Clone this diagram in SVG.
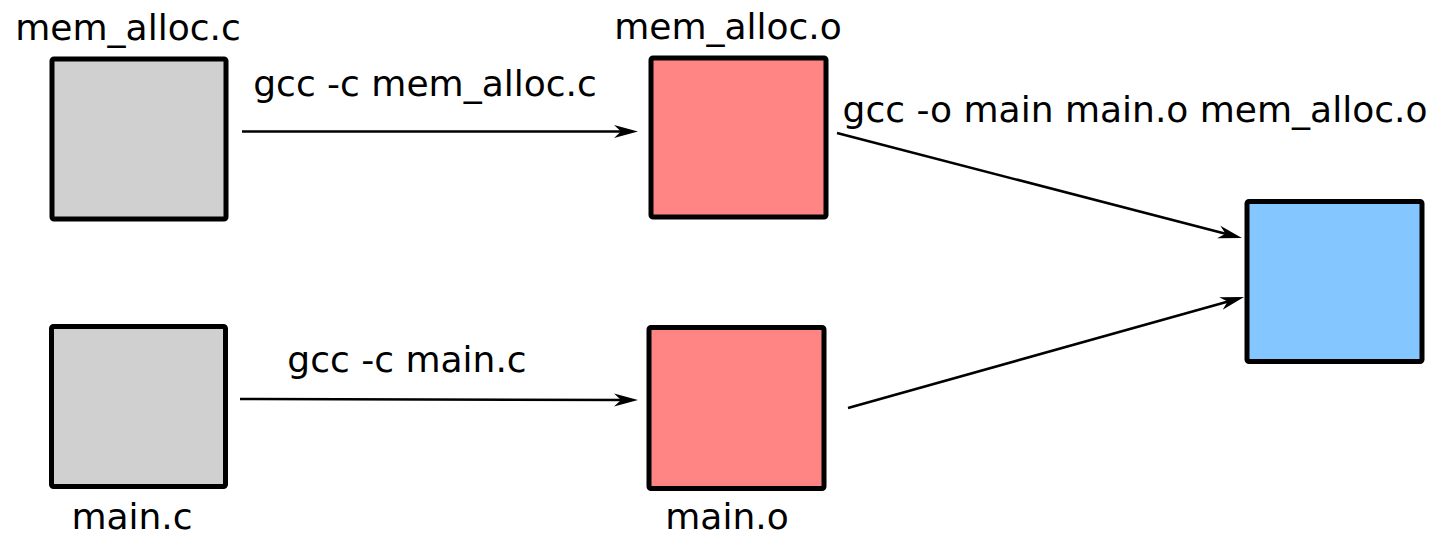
<svg xmlns="http://www.w3.org/2000/svg" width="1434" height="538" viewBox="0 0 1434 538">
<style>
.box{stroke:#000;stroke-width:5;stroke-linejoin:round}
.src{fill:#d0d0d0}
.obj{fill:#ff8484}
.exe{fill:#84c6ff}
.lbl{font-family:"DejaVu Sans",sans-serif;font-size:36px;fill:#000;text-anchor:middle}
.edge{stroke:#000;stroke-width:2.5;fill:none;marker-end:url(#arr)}
</style>
<defs>
<marker id="arr" markerUnits="userSpaceOnUse" viewBox="-16 -8 28 16" markerWidth="28" markerHeight="16" refX="0" refY="0" orient="auto">
<path d="M10,0 L-14,-6.5 L-7,0 L-14,6.5 Z" fill="#000"/>
</marker>
</defs>
<rect width="1434" height="538" fill="#fff"/>
<g id="node-mem_alloc_c">
<rect class="box src" x="52" y="59" width="174" height="160" rx="2"/>
<text class="lbl" x="128" y="40">mem_alloc.c</text>
</g>
<g id="node-main_c">
<rect class="box src" x="51.5" y="326.5" width="174" height="160" rx="2"/>
<text class="lbl" x="132" y="529">main.c</text>
</g>
<g id="node-mem_alloc_o">
<rect class="box obj" x="651" y="58" width="175" height="159" rx="2"/>
<text class="lbl" x="728" y="39">mem_alloc.o</text>
</g>
<g id="node-main_o">
<rect class="box obj" x="649" y="327.5" width="175" height="161" rx="2"/>
<text class="lbl" x="727" y="529">main.o</text>
</g>
<g id="node-main">
<rect class="box exe" x="1247" y="201.5" width="175" height="160" rx="2"/>
</g>
<g id="connectors">
<line class="edge" x1="242" y1="131.5" x2="628" y2="131.5"/>
<line class="edge" x1="240" y1="399" x2="628" y2="400"/>
<line class="edge" x1="837" y1="133" x2="1232.3" y2="235.5"/>
<line class="edge" x1="848" y1="408" x2="1234.4" y2="299.7"/>
<text class="lbl" x="425" y="96">gcc -c mem_alloc.c</text>
<text class="lbl" x="407" y="372">gcc -c main.c</text>
<text class="lbl" x="1135" y="122">gcc -o main main.o mem_alloc.o</text>
</g>
</svg>
